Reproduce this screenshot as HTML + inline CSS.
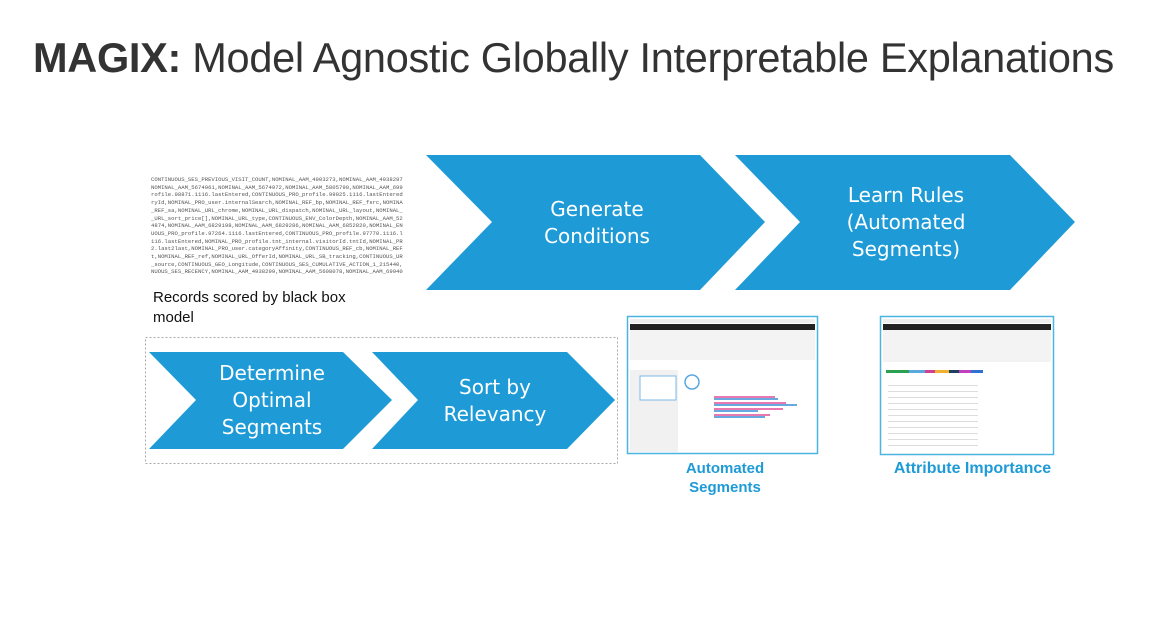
<!DOCTYPE html>
<html><head><meta charset="utf-8"><style>
html,body{margin:0;padding:0;background:#fff;}
body{width:1153px;height:630px;position:relative;overflow:hidden;font-family:"Liberation Sans",sans-serif;}
.title{position:absolute;left:33px;top:34px;font-size:41.5px;color:#333;letter-spacing:-0.3px;white-space:nowrap;}
.code{position:absolute;left:151px;top:176px;font-family:"Liberation Mono",monospace;font-size:5.6px;line-height:7.7px;color:#555;white-space:pre;width:252px;overflow:hidden;}
.cap{position:absolute;font-size:15px;color:#111;}
.lab{position:absolute;font-size:15px;font-weight:bold;color:#1e9bd7;text-align:center;line-height:19px;}
</style></head><body>
<div class="title"><b>MAGIX:</b> Model Agnostic Globally Interpretable Explanations</div>
<div class="code">CONTINUOUS_SES_PREVIOUS_VISIT_COUNT,NOMINAL_AAM_4903273,NOMINAL_AAM_4938297,N
NOMINAL_AAM_5674961,NOMINAL_AAM_5674972,NOMINAL_AAM_5805790,NOMINAL_AAM_69946
rofile.98871.1116.lastEntered,CONTINUOUS_PRO_profile.99025.1116.lastEntered,N
ryId,NOMINAL_PRO_user.internalSearch,NOMINAL_REF_bp,NOMINAL_REF_fsrc,NOMINAL_
_REF_sa,NOMINAL_URL_chrome,NOMINAL_URL_dispatch,NOMINAL_URL_layout,NOMINAL_UR
_URL_sort_price[],NOMINAL_URL_type,CONTINUOUS_ENV_ColorDepth,NOMINAL_AAM_5257
4874,NOMINAL_AAM_6829198,NOMINAL_AAM_6829286,NOMINAL_AAM_6852820,NOMINAL_ENV_
UOUS_PRO_profile.97264.1116.lastEntered,CONTINUOUS_PRO_profile.97770.1116.las
116.lastEntered,NOMINAL_PRO_profile.tnt_internal.visitorId.tntId,NOMINAL_PRO_
2.last2last,NOMINAL_PRO_user.categoryAffinity,CONTINUOUS_REF_cb,NOMINAL_REF_c
t,NOMINAL_REF_ref,NOMINAL_URL_OfferId,NOMINAL_URL_SB_tracking,CONTINUOUS_URL_
_source,CONTINUOUS_GEO_Longitude,CONTINUOUS_SES_CUMULATIVE_ACTION_1_215440,CC
NUOUS_SES_RECENCY,NOMINAL_AAM_4938299,NOMINAL_AAM_5608078,NOMINAL_AAM_6994039</div>
<div class="cap" style="left:153px;top:288px;line-height:20px;">Records scored by black box<br>model</div>
<svg width="1153" height="630" style="position:absolute;left:0;top:0" font-family="'DejaVu Sans',sans-serif">
<g fill="#1e9bd7">
<polygon points="426,155 700,155 765,222 700,290 426,290 492,222"/>
<polygon points="735,155 1010,155 1075,222 1010,290 735,290 800,222"/>
<polygon points="149,352 343,352 392,400 343,449 149,449 196,400"/>
<polygon points="372,352 567,352 615,400 567,449 372,449 418,400"/>
</g>
<rect x="145.5" y="337.5" width="472" height="126" fill="none" stroke="#aaa" stroke-dasharray="2,2"/>
<g fill="#fff" font-size="20" text-anchor="middle">
<text x="597" y="216">Generate</text><text x="597" y="243">Conditions</text>
<text x="906" y="202">Learn Rules</text><text x="906" y="229">(Automated</text><text x="906" y="256">Segments)</text>
<text x="272" y="380">Determine</text><text x="272" y="407">Optimal</text><text x="272" y="434">Segments</text>
<text x="495" y="394">Sort by</text><text x="495" y="421">Relevancy</text>
</g>
<rect x="627.5" y="316.5" width="190" height="137" fill="#fff" stroke="#4ab5e0" stroke-width="1.5"/>
<rect x="630" y="319" width="185" height="4" fill="#eee"/>
<rect x="630" y="324" width="185" height="6" fill="#222"/>
<rect x="630" y="330" width="185" height="30" fill="#f3f3f3"/>
<rect x="630" y="370" width="48" height="82" fill="#f1f1f1"/>
<rect x="640" y="376" width="36" height="24" fill="#fff" stroke="#7ab8e8"/>
<g stroke-width="2"><line x1="714" y1="397" x2="775" y2="397" stroke="#e878b0"/><line x1="714" y1="399" x2="778" y2="399" stroke="#6aa8e0"/>
<line x1="714" y1="403" x2="786" y2="403" stroke="#e878b0"/><line x1="714" y1="405" x2="797" y2="405" stroke="#6aa8e0"/>
<line x1="714" y1="409" x2="783" y2="409" stroke="#e878b0"/><line x1="714" y1="411" x2="758" y2="411" stroke="#6aa8e0"/>
<line x1="714" y1="415" x2="770" y2="415" stroke="#e878b0"/><line x1="714" y1="417" x2="765" y2="417" stroke="#6aa8e0"/></g>
<circle cx="692" cy="382" r="7" fill="none" stroke="#5aa8e0" stroke-width="1.5"/>
<rect x="880.5" y="316.5" width="173" height="138" fill="#fff" stroke="#4ab5e0" stroke-width="1.5"/>
<rect x="883" y="319" width="168" height="4" fill="#eee"/>
<rect x="883" y="324" width="168" height="6" fill="#222"/>
<rect x="883" y="330" width="168" height="32" fill="#f3f3f3"/>
<rect x="886" y="370" width="23" height="3" fill="#2aa050"/><rect x="909" y="370" width="16" height="3" fill="#5aa8e0"/><rect x="925" y="370" width="10" height="3" fill="#d04090"/><rect x="935" y="370" width="14" height="3" fill="#f0b030"/><rect x="949" y="370" width="10" height="3" fill="#204060"/><rect x="959" y="370" width="12" height="3" fill="#c040c0"/><rect x="971" y="370" width="12" height="3" fill="#3070d0"/>
<g fill="#ddd"><rect x="888" y="385" width="90" height="1"/><rect x="888" y="391" width="90" height="1"/><rect x="888" y="397" width="90" height="1"/><rect x="888" y="403" width="90" height="1"/><rect x="888" y="409" width="90" height="1"/><rect x="888" y="415" width="90" height="1"/><rect x="888" y="421" width="90" height="1"/><rect x="888" y="427" width="90" height="1"/><rect x="888" y="433" width="90" height="1"/><rect x="888" y="439" width="90" height="1"/><rect x="888" y="445" width="90" height="1"/></g>
</svg>
<div class="lab" style="left:660px;top:459px;width:130px;">Automated<br>Segments</div>
<div class="lab" style="left:875px;top:459px;width:195px;font-size:16px;">Attribute Importance</div>
</body></html>
